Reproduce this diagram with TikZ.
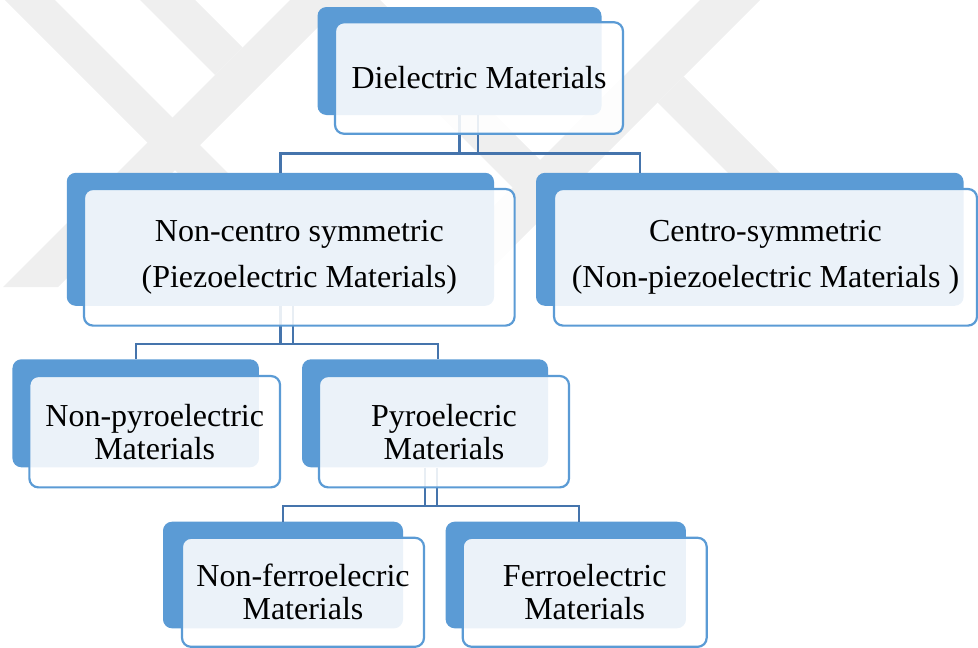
\documentclass[tikz,border=0pt]{standalone}
\usepackage{fontspec}
\setmainfont{Liberation Serif}
\definecolor{boxblue}{HTML}{5B9BD5}
\definecolor{linkblue}{HTML}{4574AC}
\definecolor{wmgray}{HTML}{EFEFEF}
\tikzset{x=1pt, y=-1pt,
  back/.style={fill=boxblue, rounded corners=9pt, inner sep=0pt},
  front/.style={draw=boxblue, line width=2.2pt, fill=white, fill opacity=0.88, text opacity=1,
    rounded corners=9pt, inner sep=0pt, align=center, font=\fontsize{32}{33}\selectfont},
  wide/.style={font=\fontsize{32}{45.5}\selectfont},
  link/.style={draw=linkblue, line width=2.4pt},
  wmark/.style={fill=wmgray}}

\begin{document}
\begin{tikzpicture}
  \useasboundingbox (0,0) rectangle (978,648);
  \begin{scope}
    \clip (0,0) rectangle (978,648);
    \fill[wmark] (  5,0) -- ( 55,0) -- (342,287) -- (292,287) -- cycle;
    \fill[wmark] (140,0) -- (195,0) -- (242.5,47.5) -- (215,75) -- cycle;
    \fill[wmark] (290,0) -- (345,0) -- ( 58,287) -- (  3,287) -- cycle;
    \fill[wmark] (325,0) -- (380,0) -- (667,287) -- (612,287) -- cycle;
    \fill[wmark] (700,0) -- (760,0) -- (473,287) -- (413,287) -- cycle;
    \fill[wmark] (657.5,102.5) -- (683.5,76.5) -- (894,287) -- (842,287) -- cycle;
  \end{scope}

  \node[back, minimum width=284pt, minimum height=108pt]   (d0b) at (459.5, 61.0) {};
  \node[back, minimum width=427.3pt, minimum height=133pt] (n1b) at (280.4,239.3) {};
  \node[back, minimum width=427.6pt, minimum height=133pt] (c1b) at (749.8,239.3) {};
  \node[back, minimum width=246.5pt, minimum height=108pt] (p2b) at (135.7,413.3) {};
  \node[back, minimum width=246pt, minimum height=108pt]   (y2b) at (425.0,413.3) {};
  \node[back, minimum width=240pt, minimum height=106.6pt] (f3b) at (283.0,575.0) {};
  \node[back, minimum width=240.3pt, minimum height=106.6pt] (e3b) at (565.8,575.0) {};

  \coordinate (bus0) at (640,153.5);
  \coordinate (bus1) at (438,344);
  \coordinate (bus2) at (579,506);

  \draw[link] (d0b.south) -- (d0b.south |- bus0);
  \draw[link] ([xshift=18.5pt]d0b.south) -- ([xshift=18.5pt]d0b.south |- bus0);
  \draw[link] (n1b.north) |- (bus0) -- (bus0 |- c1b.north);

  \draw[link] (n1b.south) -- (n1b.south |- bus1);
  \draw[link] ([xshift=12.3pt]n1b.south) -- ([xshift=12.3pt]n1b.south |- bus1);
  \draw[link] (p2b.north) |- (bus1) -- (bus1 |- y2b.north);

  \draw[link] (y2b.south) -- (y2b.south |- bus2);
  \draw[link] ([xshift=11.7pt]y2b.south) -- ([xshift=11.7pt]y2b.south |- bus2);
  \draw[link] (f3b.north) |- (bus2) -- (bus2 |- e3b.north);

  \node[front, minimum width=288pt, minimum height=111.5pt] (d0) at (479.0, 78.0) {Dielectric Materials};
  \node[front, wide, minimum width=430.6pt, minimum height=136.6pt] (n1) at (299.3,257.3)
    {Non-centro symmetric\\(Piezoelectric Materials)};
  \node[front, wide, minimum width=423pt, minimum height=136.6pt] (c1) at (765.5,257.3)
    {Centro-symmetric\\(Non-piezoelectric Materials )};
  \node[front, minimum width=250.7pt, minimum height=111.3pt] (p2) at (154.7,431.7)
    {Non-pyroelectric\\Materials};
  \node[front, minimum width=250pt, minimum height=111.3pt] (y2) at (444.0,431.7)
    {Pyroelecric\\Materials};
  \node[front, minimum width=242pt, minimum height=109pt] (f3) at (303.0,592.3)
    {Non-ferroelecric\\Materials};
  \node[front, minimum width=244pt, minimum height=109pt] (e3) at (584.7,592.3)
    {Ferroelectric\\Materials};
\end{tikzpicture}
\end{document}
